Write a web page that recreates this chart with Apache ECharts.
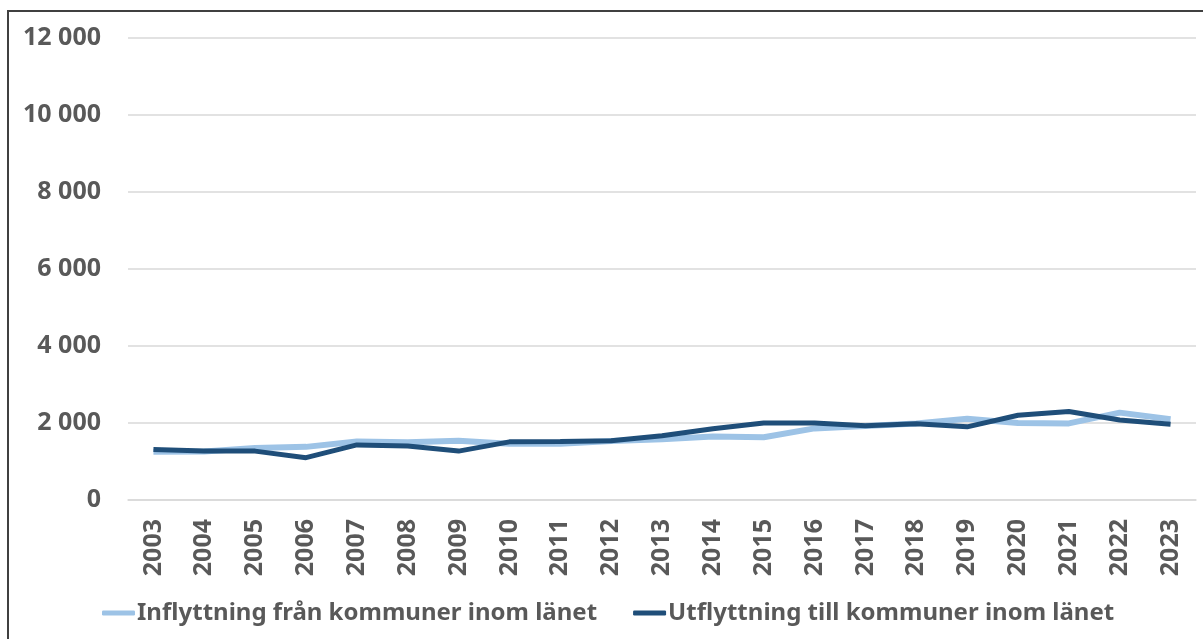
<!DOCTYPE html>
<html>
  <head>
    <meta charset="UTF-8" />
    <title>Flyttningar inom länet</title>
    <style>
      html, body { margin: 0; padding: 0; background: #fff; }
      #main { width: 1203px; height: 639px; }
    </style>
  </head>
  <body>
    <div id="main"></div>
  </body>
  <script src="https://cdn.jsdelivr.net/npm/echarts@6/dist/echarts.min.js"></script>
  <script>
    var years = ["2003", "2004", "2005", "2006", "2007", "2008", "2009", "2010", "2011", "2012", "2013",
      "2014", "2015", "2016", "2017", "2018", "2019", "2020", "2021", "2022", "2023"];
    // inflyttning (ljusblå)
    var inflyttning = [1250, 1260, 1350, 1380, 1520, 1500, 1540, 1460, 1460, 1530, 1580,
      1650, 1630, 1860, 1920, 1990, 2110, 2000, 1990, 2270, 2100];
    // utflyttning (mörkblå)
    var utflyttning = [1310, 1270, 1270, 1100, 1430, 1400, 1270, 1510, 1520, 1540, 1670,
      1850, 2000, 2000, 1930, 1980, 1900, 2200, 2300, 2080, 1970];
    var yTicks = { min: 0, max: 12000, interval: 2000 };

    var textColor = "#595959";
    var font = "'Noto Sans', sans-serif";

    var myChart = echarts.init(document.getElementById("main"));
    var option = {
      animation: false,
      textStyle: { fontFamily: font },
      grid: {
        left: 128,
        right: 7,
        top: 38,
        bottom: 139,
      },
      legend: {
        top: 596,
        left: 97,
        itemGap: 36,
        itemWidth: 33,
        itemHeight: 5,
        icon: "roundRect",
        textStyle: {
          color: textColor,
          fontSize: 24,
          fontWeight: "bold",
          fontFamily: font,
          padding: [0, 0, 0, -3],
        },
        data: ["Inflyttning från kommuner inom länet", "Utflyttning till kommuner inom länet"],
      },
      xAxis: {
        type: "category",
        boundaryGap: true,
        data: years,
        axisTick: { show: false },
        axisLine: { lineStyle: { color: "#d9d9d9", width: 1.5 } },
        axisLabel: {
          rotate: 90,
          margin: 19,
          color: textColor,
          fontSize: 25,
          fontWeight: "bold",
          fontFamily: font,
          interval: 0,
        },
      },
      yAxis: {
        type: "value",
        min: yTicks.min,
        max: yTicks.max,
        interval: yTicks.interval,
        axisLabel: {
          margin: 27,
          color: textColor,
          fontSize: 25,
          fontWeight: "bold",
          fontFamily: font,
          formatter: function (v) {
            return String(v).replace(/\B(?=(\d{3})+(?!\d))/g, " ");
          },
        },
        splitLine: { lineStyle: { color: "#d9d9d9", width: 1.5 } },
        axisLine: { show: false },
        axisTick: { show: false },
      },
      graphic: [
        {
          type: "polyline",
          shape: { points: [[8, 639], [8, 11], [1203, 11]] },
          style: { stroke: "#404040", lineWidth: 2, fill: null },
          silent: true,
        },
      ],
      series: [
        {
          name: "Inflyttning från kommuner inom länet",
          type: "line",
          data: inflyttning,
          showSymbol: false,
          symbol: "none",
          lineStyle: { color: "#9dc3e6", width: 6 },
          itemStyle: { color: "#9dc3e6" },
        },
        {
          name: "Utflyttning till kommuner inom länet",
          type: "line",
          data: utflyttning,
          showSymbol: false,
          symbol: "none",
          lineStyle: { color: "#1f4e79", width: 5 },
          itemStyle: { color: "#1f4e79" },
        },
      ],
    };
    myChart.setOption(option);
  </script>
</html>
